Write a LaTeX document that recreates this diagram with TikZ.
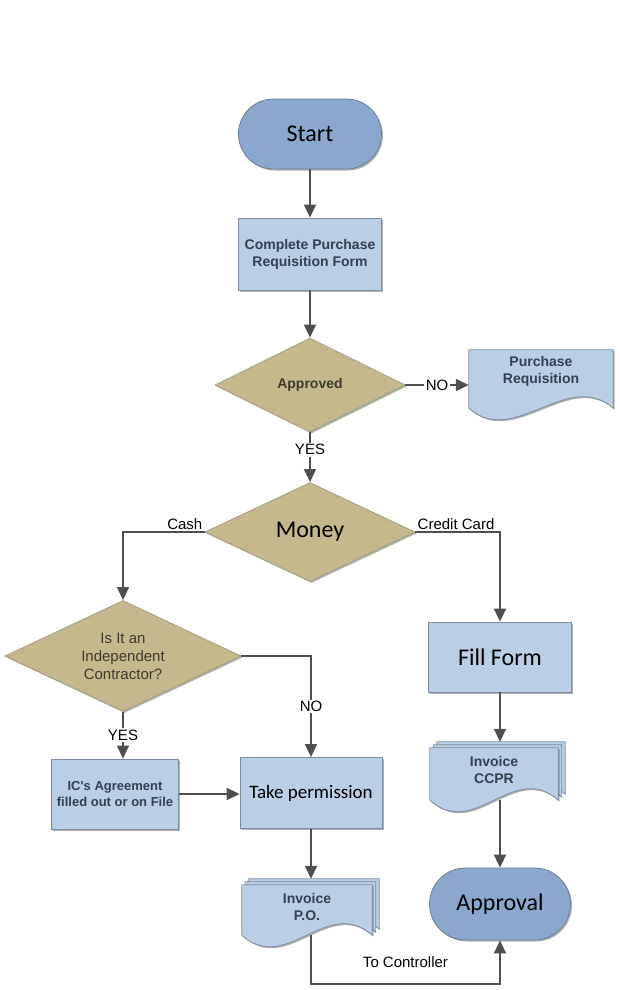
\documentclass[tikz,border=0pt]{standalone}
\usepackage{fontspec}
\setmainfont{Liberation Sans}
\newfontfamily\calibrifont{Carlito}
\usetikzlibrary{shapes.geometric,arrows.meta,calc,backgrounds,shadows}
\definecolor{boxfill}{HTML}{BACFE5}
\definecolor{boxline}{HTML}{7D8C9E}
\definecolor{pillfill}{HTML}{8AA8CE}
\definecolor{pillline}{HTML}{687D97}
\definecolor{diafill}{HTML}{C5B88C}
\definecolor{dialine}{HTML}{A59D80}
\definecolor{flowline}{HTML}{4F4F4F}
\definecolor{boxtext}{HTML}{34404F}
\definecolor{diatext}{HTML}{3E3A2C}
\tikzset{
  softshadow/.style={drop shadow={shadow xshift=1.5pt,shadow yshift=-1.5pt,opacity=0.3,fill=black}},
  pill/.style={rectangle,rounded corners=35pt,minimum width=143pt,minimum height=70pt,
    fill=pillfill,draw=pillline,line width=0.8pt,softshadow,text=black,
    font=\calibrifont\fontsize{24}{28}\selectfont},
  process/.style={rectangle,minimum width=143pt,minimum height=71pt,fill=boxfill,
    draw=boxline,line width=0.8pt,softshadow,align=center,text=boxtext,
    font=\bfseries\fontsize{14}{17}\selectfont},
  bigprocess/.style={process,text=black,font=\calibrifont\fontsize{24}{28}\selectfont},
  decision/.style={diamond,aspect=2,inner sep=0pt,fill=diafill,draw=dialine,
    line width=0.8pt,softshadow,align=center,text=diatext,
    font=\bfseries\fontsize{14}{17}\selectfont},
  docnode/.style={align=center,inner sep=0pt,text=boxtext,
    font=\bfseries\fontsize{14}{17}\selectfont},
  sheet/.style={fill=boxfill,draw=boxline,line width=0.8pt},
  flow/.style={draw=flowline,line width=1.6pt,-{Triangle[length=13pt,width=12pt]}},
  edgelabel/.style={font=\fontsize{15}{17}\selectfont,text=black,fill=white,inner sep=1.5pt}
}
\newcommand{\docsheet}[4]{($(#1.north west)+(#2,#3)$) -- ($(#1.north east)+(#2,#3)$)
  -- ($(#1.south east)+(#2,#3+#4)$) .. controls +(-45,-40) and +(45,40)
  .. ($(#1.south west)+(#2,#3+#4)$) -- cycle}
\begin{document}
\begin{tikzpicture}[x=1pt,y=-1pt]
  \useasboundingbox (0,0) rectangle (619,990);
  \node[pill] (start) at (310,134) {Start};
  \node[process,minimum height=72pt] (form) at (310,254) {Complete Purchase\\Requisition Form};
  \node[decision,minimum width=190pt,minimum height=94pt] (approved) at (310,385) {Approved};
  \node[docnode,minimum width=144pt,minimum height=42pt] (purchreq) at (541,371) {Purchase\\Requisition};
  \node[decision,minimum width=210pt,minimum height=99pt,text=black,
    font=\calibrifont\fontsize{24}{28}\selectfont] (money) at (310,532) {Money};
  \node[bigprocess,minimum height=70pt] (fill) at (500,657) {Fill Form};
  \node[docnode,minimum width=128pt,minimum height=44pt] (ccpr) at (494,770) {Invoice\\CCPR};
  \node[pill,minimum width=141pt,minimum height=72pt,rounded corners=36pt] (approval) at (500,904) {Approval};
  \node[decision,minimum width=236pt,minimum height=111pt,font=\fontsize{15}{18}\selectfont]
    (contractor) at (123,656) {Is It an\\Independent\\Contractor?};
  \node[process,minimum width=127pt,minimum height=70pt,font=\bfseries\fontsize{13}{16}\selectfont]
    (agreement) at (115,794) {IC\textquotesingle s Agreement\\filled out or on File};
  \node[bigprocess,minimum width=142pt,font=\calibrifont\fontsize{19}{23}\selectfont]
    (permission) at (311,793) {Take permission};
  \node[docnode,minimum width=130pt,minimum height=44pt] (invoice) at (307,907) {Invoice\\P.O.};
  \coordinate (bottomline) at (0,984);
  \begin{scope}[on background layer]
    \draw[sheet,softshadow] \docsheet{purchreq}{0}{0}{16};
    \draw[sheet] \docsheet{ccpr}{7}{-6}{8};
    \draw[sheet] \docsheet{ccpr}{3.5}{-3}{8};
    \draw[sheet,softshadow] \docsheet{ccpr}{0}{0}{8};
    \draw[sheet] \docsheet{invoice}{7}{-6}{6};
    \draw[sheet] \docsheet{invoice}{3.5}{-3}{6};
    \draw[sheet,softshadow] \docsheet{invoice}{0}{0}{6};
  \end{scope}
  \draw[flow] (start) -- (form);
  \draw[flow] (form) -- (approved);
  \draw[flow] (approved.east) -- node[edgelabel]{NO} (approved.east -| purchreq.west);
  \draw[flow] (approved.south) -- node[edgelabel,pos=0.35]{YES} (money.north);
  \draw[flow] (money.west) node[anchor=south east,edgelabel]{Cash} -| (contractor.north);
  \draw[flow] (money.east) node[anchor=south west,edgelabel]{Credit Card} -| (fill.north);
  \draw[flow] (fill.south) -- ([yshift=6pt]fill.south |- ccpr.north);
  \draw[flow] ([yshift=-8pt]approval.north |- ccpr.south) -- (approval.north);
  \draw[flow] (contractor.east) -| node[edgelabel,pos=0.75]{NO} (permission.north);
  \draw[flow] (contractor.south) -- node[edgelabel]{YES} (contractor.south |- agreement.north);
  \draw[flow] (agreement.east) -- (agreement.east -| permission.west);
  \draw[flow] (permission.south) -- ([yshift=6pt]permission.south |- invoice.north);
  \draw[flow] ([yshift=-6pt]permission.south |- invoice.south) -- (permission.south |- bottomline)
    -- node[above=14pt,edgelabel,fill=none]{To Controller} (approval.south |- bottomline) -- (approval.south);
\end{tikzpicture}
\end{document}
